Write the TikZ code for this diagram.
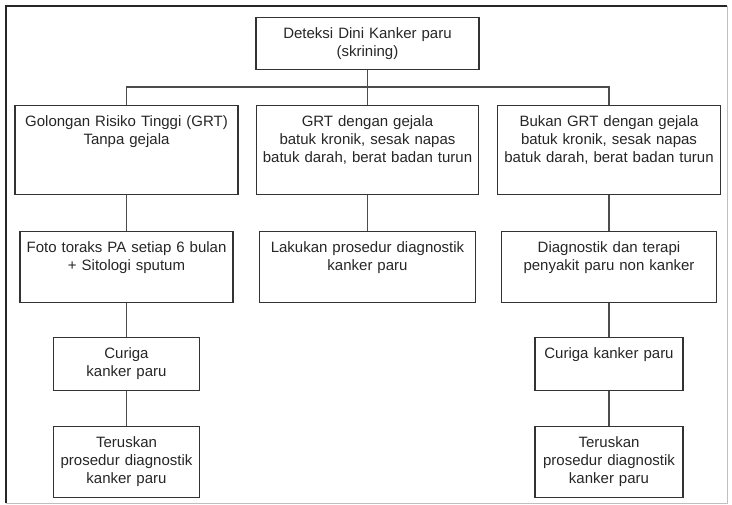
\documentclass[tikz,border=0pt]{standalone}
\usepackage{fontspec}
\setmainfont{Liberation Sans}
\usepackage{tikz}
\usetikzlibrary{positioning}
\tikzstyle{box} = [draw=black!80, line width=0.9pt, anchor=north, inner sep=0pt, align=center, text=black!85, text height=16pt, font=\fontsize{11.25}{13.5}\selectfont]
\tikzstyle{line} = [draw=black!70, line width=0.9pt]

\begin{document}
\begin{tikzpicture}[x=0.75pt,y=-0.75pt]
\useasboundingbox (0,0) rectangle (732,505);
\draw [black!25, line width=0.6pt] (727,6) |- (6,503);
\draw [black!85, line width=1.4pt] (6,503) |- (727,6);

\node (skrining) [box, text width=167.25pt, text depth=23pt] at (367.5,17) {Deteksi Dini Kanker paru\\(skrining)};

\node (grt1) [box, text width=167.25pt, text depth=50.75pt] at (126.5,105) {Golongan Risiko Tinggi (GRT)\\Tanpa gejala};
\node (grt2) [box, text width=166.5pt, text depth=50.75pt] at (367.5,105) {GRT dengan gejala\\batuk kronik, sesak napas\\batuk darah, berat badan turun};
\node (grt3) [box, text width=167.25pt, text depth=50.75pt] at (609,105) {Bukan GRT dengan gejala\\batuk kronik, sesak napas\\batuk darah, berat badan turun};

\node (foto) [box, text width=159.75pt, text depth=37.25pt] at (126.5,231) {Foto toraks PA setiap 6 bulan\\+ Sitologi sputum};
\node (lakukan) [box, text width=162pt, text depth=37.25pt] at (367.5,231) {Lakukan prosedur diagnostik\\kanker paru};
\node (terapi) [box, text width=161.25pt, text depth=37.25pt] at (609,231) {Diagnostik dan terapi\\penyakit paru non kanker};

\node (curiga1) [box, text width=109.5pt, text depth=23.75pt] at (126.5,337) {Curiga\\kanker paru};
\node (curiga2) [box, text width=111pt, text depth=23.75pt] at (609,337) {Curiga kanker paru};

\node (terus1) [box, text width=109.5pt, text depth=37.25pt] at (126.5,426) {Teruskan\\prosedur diagnostik\\kanker paru};
\node (terus2) [box, text width=111pt, text depth=37.25pt] at (609,426) {Teruskan\\prosedur diagnostik\\kanker paru};

\coordinate (bus) at (367.5,87);

\draw [line] (skrining.south) -- (bus);
\draw [line] (grt1.north) |- (bus) -| (grt3.north);
\draw [line] (bus) -- (grt2.north);
\draw [line] (grt1.south) -- (foto.north);
\draw [line] (grt2.south) -- (lakukan.north);
\draw [line] (grt3.south) -- (terapi.north);
\draw [line] (foto.south) -- (curiga1.north);
\draw [line] (terapi.south) -- (curiga2.north);
\draw [line] (curiga1.south) -- (terus1.north);
\draw [line] (curiga2.south) -- (terus2.north);
\end{tikzpicture}
\end{document}
